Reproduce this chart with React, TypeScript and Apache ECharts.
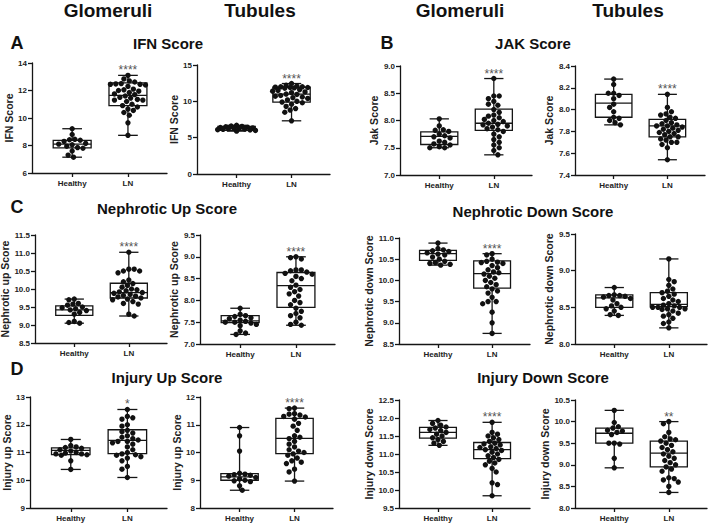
import React, { useEffect, useRef } from "react";
import * as echarts from "echarts";

const CATEGORIES = ["Healthy", "LN"];

// A: IFN Score
const ifnGlomHealthy = [9.22, 8.8, 8.45, 8.42, 8.38, 8.3, 8.15, 8.1, 8.05, 7.95, 7.85, 7.8, 7.6, 7.3, 7.15];
const ifnGlomLN = [13.1, 12.84, 12.7, 12.62, 12.5, 12.48, 12.45, 12.45, 12.4, 12.3, 12.1, 12.05, 12.0, 11.95, 11.85, 11.75, 11.7, 11.6, 11.5, 11.45, 11.35, 11.3, 11.3, 11.2, 11.0, 10.9, 10.8, 10.65, 10.55, 10.4, 10.2, 9.65, 8.74];
const ifnGlomBox = [[7.82, 8.1, 8.38], [10.9, 11.65, 12.55]];
const ifnTubHealthy = [6.7, 6.6, 6.55, 6.5, 6.45, 6.4, 6.35, 6.3, 6.3, 6.25, 6.2, 6.15, 6.1, 6.05, 6.0, 5.9];
const ifnTubLN = [12.45, 12.2, 12.1, 12.0, 12.0, 11.95, 11.9, 11.9, 11.85, 11.8, 11.6, 11.5, 11.4, 11.3, 11.2, 11.0, 10.95, 10.8, 10.7, 10.6, 10.5, 10.4, 10.2, 10.0, 9.9, 9.8, 9.6, 9.3, 9.0, 8.8, 8.5, 7.32];
const ifnTubBox = [[6.0, 6.3, 6.54], [9.88, 10.98, 11.94]];

// B: JAK Score
const jakGlomHealthy = [8.03, 7.9, 7.83, 7.82, 7.8, 7.75, 7.72, 7.7, 7.68, 7.62, 7.6, 7.57, 7.55, 7.52, 7.5, 7.5];
const jakGlomLN = [8.77, 8.45, 8.45, 8.4, 8.35, 8.3, 8.28, 8.2, 8.15, 8.1, 8.08, 8.05, 8.02, 8.0, 7.98, 7.95, 7.93, 7.92, 7.9, 7.88, 7.85, 7.83, 7.8, 7.75, 7.7, 7.65, 7.6, 7.55, 7.5, 7.45, 7.37];
const jakGlomBox = [[7.56, 7.71, 7.79], [7.82, 7.95, 8.21]];
const jakTubHealthy = [8.28, 8.23, 8.15, 8.15, 8.13, 8.1, 8.05, 8.02, 7.98, 7.93, 7.92, 7.9, 7.88, 7.86];
const jakTubLN = [8.14, 8.02, 7.98, 7.96, 7.95, 7.93, 7.92, 7.9, 7.88, 7.87, 7.86, 7.85, 7.85, 7.84, 7.83, 7.82, 7.81, 7.8, 7.79, 7.78, 7.77, 7.75, 7.75, 7.73, 7.72, 7.7, 7.7, 7.68, 7.65, 7.54];
const jakTubBox = [[7.93, 8.06, 8.14], [7.75, 7.85, 7.91]];

// C: Nephrotic Up Score
const nupGlomHealthy = [9.72, 9.7, 9.6, 9.58, 9.55, 9.5, 9.48, 9.45, 9.42, 9.4, 9.35, 9.3, 9.1, 9.07, 9.05];
const nupGlomLN = [11.02, 10.55, 10.55, 10.5, 10.5, 10.45, 10.25, 10.2, 10.15, 10.1, 10.05, 10.0, 9.98, 9.95, 9.92, 9.9, 9.88, 9.85, 9.82, 9.8, 9.78, 9.75, 9.72, 9.7, 9.65, 9.6, 9.58, 9.3, 9.25];
const nupGlomBox = [[9.27, 9.42, 9.53], [9.75, 9.9, 10.16]];
const nupTubHealthy = [7.82, 7.68, 7.65, 7.63, 7.6, 7.58, 7.55, 7.52, 7.5, 7.5, 7.48, 7.45, 7.42, 7.3, 7.25, 7.22];
const nupTubLN = [9.0, 8.98, 8.95, 8.7, 8.7, 8.68, 8.65, 8.62, 8.6, 8.55, 8.5, 8.45, 8.35, 8.3, 8.25, 8.2, 8.15, 8.1, 8.0, 7.95, 7.9, 7.82, 7.75, 7.7, 7.65, 7.6, 7.5, 7.45, 7.43];
const nupTubBox = [[7.49, 7.53, 7.65], [7.84, 8.34, 8.64]];

// Nephrotic Down Score
const ndnGlomHealthy = [10.88, 10.75, 10.72, 10.7, 10.68, 10.65, 10.62, 10.6, 10.55, 10.5, 10.45, 10.42, 10.4, 10.38, 10.36];
const ndnGlomLN = [10.63, 10.6, 10.5, 10.45, 10.43, 10.42, 10.4, 10.35, 10.3, 10.25, 10.2, 10.18, 10.15, 10.1, 10.05, 10.0, 9.95, 9.9, 9.85, 9.8, 9.75, 9.7, 9.6, 9.5, 9.5, 9.45, 9.25, 9.0, 8.75];
const ndnGlomBox = [[10.47, 10.63, 10.71], [9.82, 10.16, 10.46]];
const ndnTubHealthy = [8.77, 8.67, 8.66, 8.66, 8.65, 8.64, 8.62, 8.6, 8.55, 8.52, 8.5, 8.48, 8.45, 8.4, 8.39];
const ndnTubLN = [9.16, 8.88, 8.85, 8.8, 8.75, 8.72, 8.7, 8.68, 8.65, 8.62, 8.6, 8.58, 8.55, 8.53, 8.52, 8.5, 8.5, 8.5, 8.48, 8.48, 8.47, 8.45, 8.42, 8.4, 8.38, 8.35, 8.3, 8.28, 8.22];
const ndnTubBox = [[8.5, 8.63, 8.67], [8.51, 8.54, 8.7]];

// D: Injury Up Score
const iupGlomHealthy = [11.47, 11.25, 11.2, 11.18, 11.15, 11.1, 11.05, 11.0, 10.98, 10.95, 10.95, 10.92, 10.9, 10.7, 10.39];
const iupGlomLN = [12.55, 12.3, 12.25, 12.2, 12.0, 11.95, 11.8, 11.75, 11.7, 11.6, 11.55, 11.5, 11.45, 11.4, 11.4, 11.35, 11.3, 11.2, 11.1, 11.0, 10.95, 10.92, 10.9, 10.85, 10.8, 10.7, 10.5, 10.4, 10.1];
const iupGlomBox = [[10.92, 11.08, 11.17], [10.96, 11.44, 11.82]];
const iupTubHealthy = [10.9, 10.6, 10.05, 9.25, 9.22, 9.2, 9.18, 9.15, 9.1, 9.05, 9.0, 8.98, 8.95, 8.8, 8.64];
const iupTubLN = [11.6, 11.58, 11.4, 11.38, 11.35, 11.3, 11.28, 11.2, 11.05, 10.95, 10.8, 10.6, 10.55, 10.5, 10.4, 10.3, 10.2, 10.1, 10.05, 10.0, 9.95, 9.9, 9.8, 9.7, 9.65, 9.6, 9.4, 9.3, 8.97];
const iupTubBox = [[9.0, 9.12, 9.24], [9.96, 10.51, 11.23]];

// Injury Down Score
const idnGlomHealthy = [11.93, 11.85, 11.8, 11.75, 11.72, 11.68, 11.65, 11.6, 11.55, 11.5, 11.45, 11.4, 11.35, 11.3, 11.24];
const idnGlomLN = [11.88, 11.6, 11.55, 11.5, 11.45, 11.4, 11.35, 11.3, 11.28, 11.25, 11.2, 11.18, 11.15, 11.12, 11.1, 11.05, 11.0, 10.95, 10.9, 10.85, 10.8, 10.75, 10.7, 10.6, 10.5, 10.2, 10.15, 9.84];
const idnGlomBox = [[11.44, 11.6, 11.74], [10.87, 11.12, 11.32]];
const idnTubHealthy = [10.26, 9.98, 9.88, 9.85, 9.8, 9.78, 9.75, 9.7, 9.5, 9.5, 9.48, 9.15, 8.93];
const idnTubLN = [10.0, 9.95, 9.75, 9.65, 9.6, 9.58, 9.55, 9.5, 9.45, 9.4, 9.35, 9.3, 9.25, 9.2, 9.15, 9.1, 9.05, 9.0, 8.95, 8.9, 8.85, 8.7, 8.68, 8.65, 8.6, 8.5, 8.36];
const idnTubBox = [[9.5, 9.73, 9.85], [8.95, 9.27, 9.55]];

const FONT = "'Liberation Sans', Arial, sans-serif";
const INK = "#151515";

type Panel = {
  yName: string;
  min: number;
  max: number;
  interval: number;
  decimals: number;
  healthy: number[];
  ln: number[];
  box: number[][];
  stars: string;
  grid: { left: number; top: number; width: number; height: number };
  gap: number;
};

const panels: Panel[] = [
  { yName: "IFN Score", min: 6, max: 14, interval: 2, decimals: 0, healthy: ifnGlomHealthy, ln: ifnGlomLN, box: ifnGlomBox, stars: "****", grid: { left: 32, top: 63, width: 135, height: 110 }, gap: 13 },
  { yName: "IFN Score", min: 0, max: 15, interval: 5, decimals: 0, healthy: ifnTubHealthy, ln: ifnTubLN, box: ifnTubBox, stars: "****", grid: { left: 197, top: 65, width: 133, height: 109 }, gap: 14 },
  { yName: "Jak Score", min: 7, max: 9, interval: 0.5, decimals: 1, healthy: jakGlomHealthy, ln: jakGlomLN, box: jakGlomBox, stars: "****", grid: { left: 400, top: 66, width: 132, height: 109 }, gap: 21 },
  { yName: "Jak Score", min: 7.4, max: 8.4, interval: 0.2, decimals: 1, healthy: jakTubHealthy, ln: jakTubLN, box: jakTubBox, stars: "****", grid: { left: 575, top: 66, width: 130, height: 109 }, gap: 21 },
  { yName: "Nephrotic up Score", min: 8.5, max: 11.5, interval: 0.5, decimals: 1, healthy: nupGlomHealthy, ln: nupGlomLN, box: nupGlomBox, stars: "****", grid: { left: 35, top: 235, width: 132, height: 108 }, gap: 21 },
  { yName: "Nephrotic up Score", min: 7, max: 9.5, interval: 0.5, decimals: 1, healthy: nupTubHealthy, ln: nupTubLN, box: nupTubBox, stars: "****", grid: { left: 200, top: 235, width: 135, height: 109 }, gap: 16 },
  { yName: "Nephrotic down Score", min: 8.5, max: 11, interval: 0.5, decimals: 1, healthy: ndnGlomHealthy, ln: ndnGlomLN, box: ndnGlomBox, stars: "****", grid: { left: 399, top: 238, width: 131, height: 106 }, gap: 21 },
  { yName: "Nephrotic down Score", min: 8, max: 9.5, interval: 0.5, decimals: 1, healthy: ndnTubHealthy, ln: ndnTubLN, box: ndnTubBox, stars: "", grid: { left: 575, top: 234, width: 132, height: 110 }, gap: 20 },
  { yName: "Injury up Score", min: 9, max: 13, interval: 1, decimals: 0, healthy: iupGlomHealthy, ln: iupGlomLN, box: iupGlomBox, stars: "*", grid: { left: 30, top: 397, width: 137, height: 111 }, gap: 16 },
  { yName: "Injury up Score", min: 8, max: 12, interval: 1, decimals: 0, healthy: iupTubHealthy, ln: iupTubLN, box: iupTubBox, stars: "****", grid: { left: 200, top: 397, width: 133, height: 111 }, gap: 17 },
  { yName: "Injury down Score", min: 9.5, max: 12.5, interval: 0.5, decimals: 1, healthy: idnGlomHealthy, ln: idnGlomLN, box: idnGlomBox, stars: "****", grid: { left: 399, top: 400, width: 131, height: 108 }, gap: 21 },
  { yName: "Injury down Score", min: 8, max: 10.5, interval: 0.5, decimals: 1, healthy: idnTubHealthy, ln: idnTubLN, box: idnTubBox, stars: "**", grid: { left: 575, top: 400, width: 132, height: 108 }, gap: 21 },
];

const BOX_UNITS = 0.68;
const DOT_R = 2.7;

// beeswarm layout in pixel space, limited to a maximum half-width
function swarm(ys: number[], r: number, halfW: number): number[] {
  const order = ys.map((_, i) => i).sort((a, b) => ys[a] - ys[b]);
  const placed: { x: number; y: number }[] = [];
  const out = new Array(ys.length).fill(0);
  const d2 = 4 * r * r * 0.92;
  const step = r * 0.5;
  order.forEach((i, n) => {
    const y = ys[i];
    const sign = n % 2 === 0 ? 1 : -1;
    let best = 0;
    let bestScore = -Infinity;
    for (let k = 0; k < 200; k++) {
      const off = k === 0 ? 0 : (k % 2 === 1 ? sign : -sign) * Math.ceil(k / 2) * step;
      if (Math.abs(off) > halfW) break;
      let minD = Infinity;
      for (const p of placed) {
        const dd = (p.x - off) * (p.x - off) + (p.y - y) * (p.y - y);
        if (dd < minD) minD = dd;
      }
      if (minD >= d2) {
        best = off;
        bestScore = Infinity;
        break;
      }
      if (minD > bestScore) {
        bestScore = minD;
        best = off;
      }
    }
    out[i] = best;
    placed.push({ x: best, y });
  });
  return out;
}

const titles = [
  { text: "Glomeruli", x: 108, y: 10, size: 19 },
  { text: "Tubules", x: 260, y: 10, size: 19 },
  { text: "Glomeruli", x: 460, y: 10, size: 19 },
  { text: "Tubules", x: 628, y: 10, size: 19 },
  { text: "A", x: 17, y: 43, size: 18 },
  { text: "IFN Score", x: 168, y: 43, size: 15 },
  { text: "B", x: 387, y: 43, size: 18 },
  { text: "JAK Score", x: 533, y: 43, size: 15 },
  { text: "C", x: 17, y: 207, size: 18 },
  { text: "Nephrotic Up Score", x: 167, y: 208, size: 15 },
  { text: "Nephrotic Down Score", x: 533, y: 211, size: 15 },
  { text: "D", x: 17, y: 369, size: 18 },
  { text: "Injury Up Score", x: 167, y: 377, size: 15 },
  { text: "Injury Down Score", x: 543, y: 377, size: 15 },
];

export default function App() {
  const ref = useRef<HTMLDivElement>(null);
  useEffect(() => {
    if (!ref.current) return;
    const chart = echarts.init(ref.current, null, { renderer: "svg" });
    const option: any = {
      animation: false,
      backgroundColor: "#ffffff",
      textStyle: { fontFamily: FONT },
      grid: panels.map((p) => ({ ...p.grid, containLabel: false, outerBoundsMode: "none" })),
      xAxis: panels.map((p, i) => ({
        type: "value",
        gridIndex: i,
        min: -0.72,
        max: 1.7,
        splitLine: { show: false },
        axisLine: { show: true, onZero: false, lineStyle: { color: INK, width: 1.3 } },
        axisTick: { show: true, customValues: [0, 1], length: 4, lineStyle: { color: INK, width: 1.3 } },
        axisLabel: {
          show: true,
          customValues: [0, 1],
          formatter: (v: number) => CATEGORIES[Math.round(v)] ?? "",
          fontFamily: FONT,
          fontWeight: "bold",
          fontSize: 8,
          color: "#222",
          margin: 6,
        },
      })),
      yAxis: panels.map((p, i) => ({
        type: "value",
        gridIndex: i,
        min: p.min,
        max: p.max,
        interval: p.interval,
        name: p.yName,
        nameLocation: "middle",
        nameGap: p.gap,
        nameTextStyle: { fontFamily: FONT, fontWeight: "bold", fontSize: 10.5, color: "#222" },
        splitLine: { show: false },
        axisLine: { show: true, onZero: false, lineStyle: { color: INK, width: 1.3 } },
        axisTick: { show: true, length: 4, lineStyle: { color: INK, width: 1.3 } },
        axisLabel: {
          fontFamily: FONT,
          fontWeight: "bold",
          fontSize: 8,
          color: "#222",
          margin: 5,
          formatter: (v: number) => v.toFixed(p.decimals),
        },
      })),
      series: panels.map((p, i) => ({
        type: "custom",
        xAxisIndex: i,
        yAxisIndex: i,
        clip: false,
        encode: { x: 0, y: [1, 2, 3, 4, 5] },
        data: [0, 1].map((g) => {
          const pts = g === 0 ? p.healthy : p.ln;
          return [g, Math.min(...pts), p.box[g][0], p.box[g][1], p.box[g][2], Math.max(...pts)];
        }),
        renderItem: (params: any, api: any) => {
          const g = api.value(0) as number;
          const pts = g === 0 ? p.healthy : p.ln;
          const cx = api.coord([g, api.value(3)])[0];
          const Y = (v: number) => api.coord([g, v])[1];
          const bw = api.size([BOX_UNITS, 0])[0];
          const cw = bw * 0.52;
          const yMin = Y(api.value(1));
          const yQ1 = Y(api.value(2));
          const yMed = Y(api.value(3));
          const yQ3 = Y(api.value(4));
          const yMax = Y(api.value(5));
          const ls = { stroke: INK, lineWidth: 1.3, fill: null };
          const children: any[] = [
            { type: "line", shape: { x1: cx, y1: yMax, x2: cx, y2: yQ3 }, style: ls },
            { type: "line", shape: { x1: cx, y1: yQ1, x2: cx, y2: yMin }, style: ls },
            { type: "line", shape: { x1: cx - cw / 2, y1: yMax, x2: cx + cw / 2, y2: yMax }, style: ls },
            { type: "line", shape: { x1: cx - cw / 2, y1: yMin, x2: cx + cw / 2, y2: yMin }, style: ls },
            { type: "rect", shape: { x: cx - bw / 2, y: yQ3, width: bw, height: yQ1 - yQ3 }, style: { stroke: INK, lineWidth: 1.3, fill: "#ffffff" } },
            { type: "line", shape: { x1: cx - bw / 2, y1: yMed, x2: cx + bw / 2, y2: yMed }, style: ls },
          ];
          const ys = pts.map((v) => Y(v));
          const offs = swarm(ys, DOT_R, bw / 2 + 1);
          ys.forEach((yy, k) => {
            children.push({ type: "circle", shape: { cx: cx + offs[k], cy: yy, r: DOT_R }, style: { fill: "#111111" } });
          });
          if (g === 1 && p.stars) {
            children.push({
              type: "text",
              style: {
                text: p.stars,
                x: cx,
                y: yMax - 5,
                align: "center",
                verticalAlign: "middle",
                fontFamily: FONT,
                fontSize: 12,
                fill: "#555555",
              },
            });
          }
          return { type: "group", children };
        },
      })),
      graphic: titles.map((t) => ({
        type: "text",
        x: t.x,
        y: t.y,
        style: {
          text: t.text,
          align: "center",
          verticalAlign: "middle",
          fontFamily: FONT,
          fontWeight: "bold",
          fontSize: t.size,
          fill: "#111111",
        },
      })),
    };
    chart.setOption(option);
    return () => chart.dispose();
  }, []);
  return (
    <div
      ref={ref}
      style={{ position: "fixed", left: 0, top: 0, width: 709, height: 524, background: "#fff" }}
    />
  );
}
